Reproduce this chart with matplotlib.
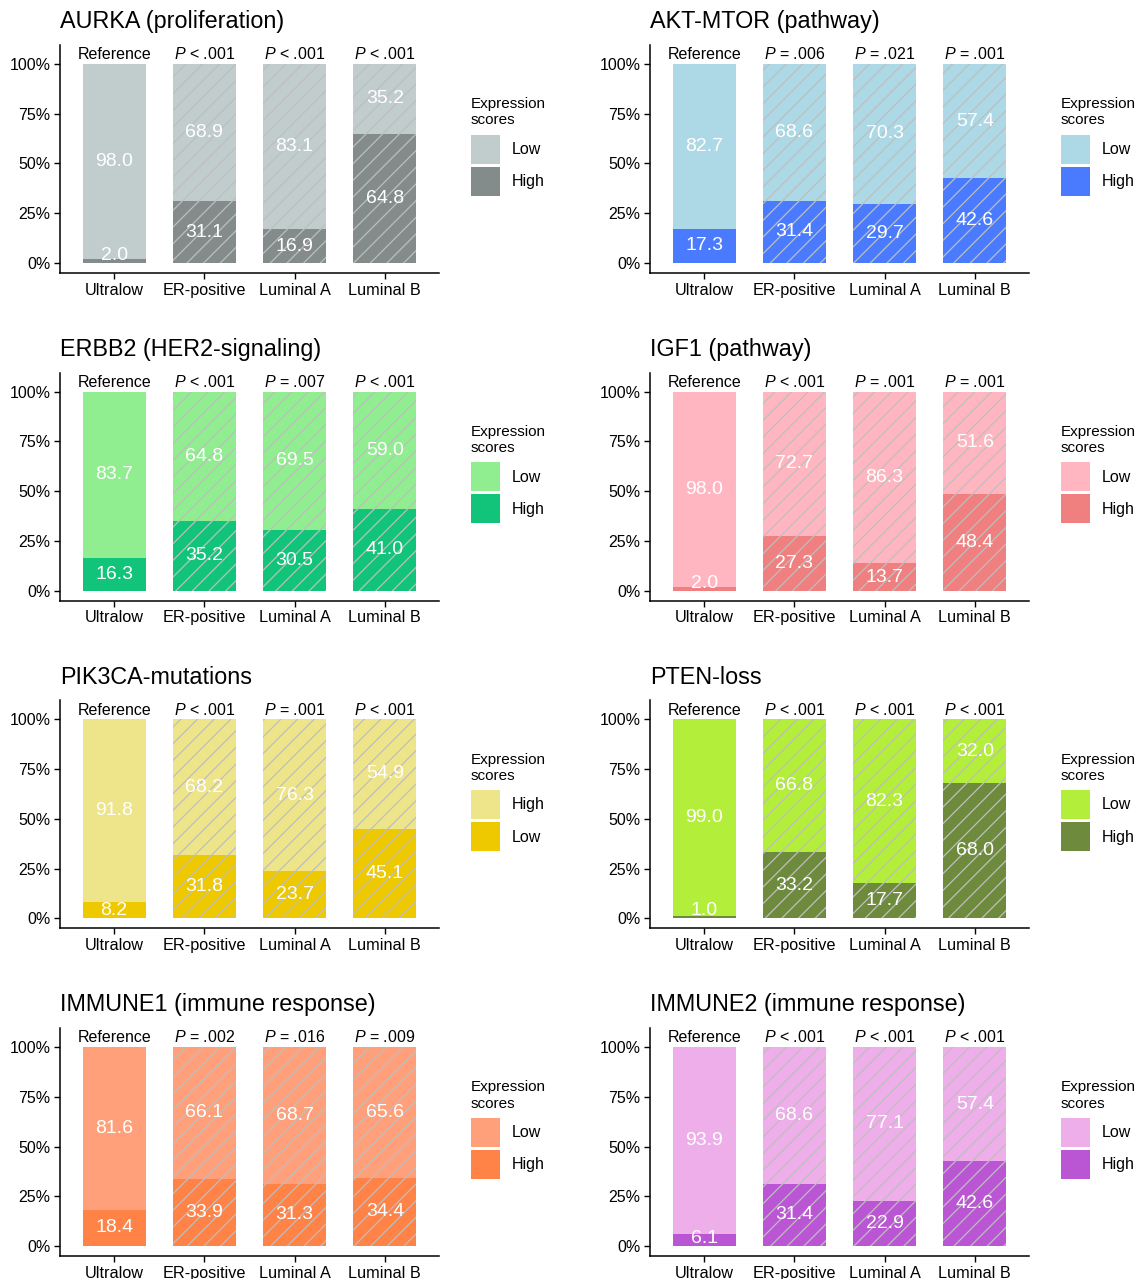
import matplotlib

matplotlib.use("Agg")

import matplotlib.pyplot as plt
from matplotlib.patches import Patch

plt.rcParams["font.family"] = ["Liberation Sans", "DejaVu Sans"]
plt.rcParams["mathtext.fontset"] = "custom"
plt.rcParams["mathtext.rm"] = "Liberation Sans"
plt.rcParams["mathtext.it"] = "Liberation Sans:italic"
plt.rcParams["hatch.color"] = "#BEBEBE"
plt.rcParams["hatch.linewidth"] = 0.9

groups = ["Ultralow", "ER-positive", "Luminal A", "Luminal B"]
y_ticks = [0, 25, 50, 75, 100]
y_tick_labels = ["0%", "25%", "50%", "75%", "100%"]

titles = [
    "AURKA (proliferation)",
    "AKT-MTOR (pathway)",
    "ERBB2 (HER2-signaling)",
    "IGF1 (pathway)",
    "PIK3CA-mutations",
    "PTEN-loss",
    "IMMUNE1 (immune response)",
    "IMMUNE2 (immune response)",
]

# upper segment of each bar / lower segment of each bar (percent)
top_values = [
    [98.0, 68.9, 83.1, 35.2],
    [82.7, 68.6, 70.3, 57.4],
    [83.7, 64.8, 69.5, 59.0],
    [98.0, 72.7, 86.3, 51.6],
    [91.8, 68.2, 76.3, 54.9],
    [99.0, 66.8, 82.3, 32.0],
    [81.6, 66.1, 68.7, 65.6],
    [93.9, 68.6, 77.1, 57.4],
]
bottom_values = [
    [2.0, 31.1, 16.9, 64.8],
    [17.3, 31.4, 29.7, 42.6],
    [16.3, 35.2, 30.5, 41.0],
    [2.0, 27.3, 13.7, 48.4],
    [8.2, 31.8, 23.7, 45.1],
    [1.0, 33.2, 17.7, 68.0],
    [18.4, 33.9, 31.3, 34.4],
    [6.1, 31.4, 22.9, 42.6],
]

p_labels = [
    ["Reference", "$P$ < .001", "$P$ < .001", "$P$ < .001"],
    ["Reference", "$P$ = .006", "$P$ = .021", "$P$ = .001"],
    ["Reference", "$P$ < .001", "$P$ = .007", "$P$ < .001"],
    ["Reference", "$P$ < .001", "$P$ = .001", "$P$ = .001"],
    ["Reference", "$P$ < .001", "$P$ = .001", "$P$ < .001"],
    ["Reference", "$P$ < .001", "$P$ < .001", "$P$ < .001"],
    ["Reference", "$P$ = .002", "$P$ = .016", "$P$ = .009"],
    ["Reference", "$P$ < .001", "$P$ < .001", "$P$ < .001"],
]

top_names = ["Low", "Low", "Low", "Low", "High", "Low", "Low", "Low"]
bottom_names = ["High", "High", "High", "High", "Low", "High", "High", "High"]

top_colors = ["#C1CDCD", "#ADD8E6", "#90EE90", "#FFB6C1",
              "#EEE48A", "#B3EE3A", "#FFA07A", "#EEAEEA"]
bottom_colors = ["#838B8B", "#4A7BFF", "#12C47A", "#F08080",
                 "#EEC900", "#6E8B3D", "#FF8247", "#BA55D3"]

W, H = 1139, 1279
fig = plt.figure(figsize=(W / 100, H / 100), dpi=100)

col_left = [60, 650]
ax_w, ax_h = 379, 228
row_step = 327.7

for i, title in enumerate(titles):
    row, col = divmod(i, 2)
    top_px = 45 + row * row_step
    ax = fig.add_axes([col_left[col] / W, 1 - (top_px + ax_h) / H, ax_w / W, ax_h / H])

    x = list(range(1, len(groups) + 1))
    low = bottom_values[i]
    high = top_values[i]
    bars_b = ax.bar(x, low, width=0.7, color=bottom_colors[i], linewidth=0)
    bars_t = ax.bar(x, high, bottom=low, width=0.7, color=top_colors[i], linewidth=0)
    for p in list(bars_b)[1:] + list(bars_t)[1:]:
        p.set_hatch("//")

    for xi, b, t, lab in zip(x, low, high, p_labels[i]):
        ax.text(xi, max(b / 2, 3.8), f"{b:.1f}", ha="center", va="center",
                color="white", fontsize=14)
        ax.text(xi, b + t / 2, f"{t:.1f}", ha="center", va="center",
                color="white", fontsize=14)
        ax.text(xi, 102.3, lab, ha="center", va="baseline", fontsize=11.5)

    ax.set_xlim(0.4, 4.6)
    ax.set_ylim(-5, 109.5)
    ax.set_xticks(x)
    ax.set_xticklabels(groups, fontsize=11.7)
    ax.set_yticks(y_ticks)
    ax.set_yticklabels(y_tick_labels, fontsize=11.5)
    ax.tick_params(length=4, width=1, color="black", pad=3)
    for s in ["top", "right"]:
        ax.spines[s].set_visible(False)
    for s in ["left", "bottom"]:
        ax.spines[s].set_linewidth(1.1)
    ax.set_title(title, loc="left", fontsize=16.8, pad=12)

    handles = [Patch(facecolor=top_colors[i], linewidth=0),
               Patch(facecolor=bottom_colors[i], linewidth=0)]
    leg = ax.legend(handles, [top_names[i], bottom_names[i]], title="Expression\nscores",
                    loc="upper left", bbox_to_anchor=(1 + 32 / ax_w, 0.771),
                    frameon=False, borderpad=0, borderaxespad=0, fontsize=11.5,
                    title_fontsize=11, alignment="left", handlelength=1.8,
                    handleheight=2.4, labelspacing=0.2, handletextpad=0.75)
    leg._legend_box.sep = 5.3  # a little more room under the legend title

fig.savefig("out.png", dpi=100)
